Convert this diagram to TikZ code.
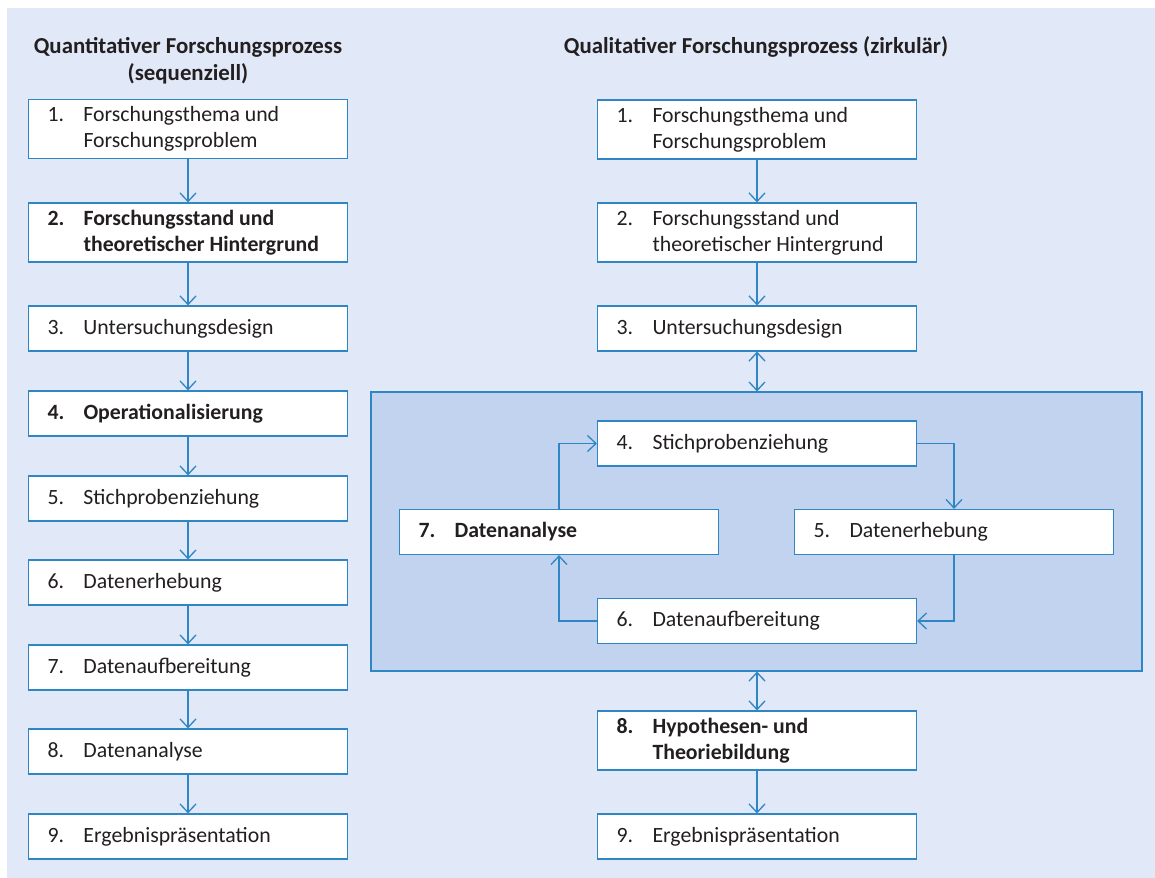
\documentclass[tikz,border=0pt]{standalone}
\usepackage{fontspec}
\setmainfont{Carlito}
\usepackage{tikz}
\usetikzlibrary{arrows.meta}

\definecolor{hinter}{HTML}{E1E8F7}
\definecolor{kreis}{HTML}{C2D3EF}
\definecolor{linie}{HTML}{2F86C4}
\definecolor{schrift}{HTML}{231F20}

\tikzset{
  stufe/.style={draw=linie, line width=0.7pt, fill=white, text=schrift,
    minimum width=6.38cm, text width=5.62cm, inner xsep=0.38cm, inner ysep=0pt,
    align=flush left, font=\fontsize{12.4}{14.8}\selectfont},
  eins/.style={stufe, minimum height=0.9cm},
  zwei/.style={stufe, minimum height=1.18cm},
  pfeil/.style={draw=linie, line width=0.75pt, -{Straight Barb[length=1.7mm,width=3.2mm]}},
  doppel/.style={pfeil, {Straight Barb[length=1.7mm,width=3.2mm]}-{Straight Barb[length=1.7mm,width=3.2mm]}},
  titel/.style={text=schrift, font=\bfseries\fontsize{13}{15.5}\selectfont, align=center}
}
\newcommand{\nr}[1]{\makebox[0.72cm][l]{#1}}

\begin{document}
\begin{tikzpicture}[x=0.02cm, y=-0.02cm]
  \useasboundingbox (0,0) rectangle (1155,878);
  \fill[hinter] (7,8) rectangle (1155,878);
  % quantitativ
  \node[titel] (tl) at (188,61) {Quantitativer Forschungsprozess\\(sequenziell)};
  \node[zwei] (l1) at (188,129) {\nr{1.}Forschungsthema und\\\nr{}Forschungsproblem};
  \node[zwei] (l2) at (188,232.5) {\bfseries\nr{2.}Forschungsstand und\\\nr{}\mbox{theoretischer Hintergrund}};
  \node[eins] (l3) at (188,328.5) {\nr{3.}Untersuchungsdesign};
  \node[eins] (l4) at (188,413.5) {\bfseries\nr{4.}Operationalisierung};
  \node[eins] (l5) at (188,498.5) {\nr{5.}Stichprobenziehung};
  \node[eins] (l6) at (188,582.5) {\nr{6.}Datenerhebung};
  \node[eins] (l7) at (188,667.5) {\nr{7.}Datenaufbereitung};
  \node[eins] (l8) at (188,751.5) {\nr{8.}Datenanalyse};
  \node[eins] (l9) at (188,836.5) {\nr{9.}Ergebnispräsentation};
  \foreach \a/\b in {l1/l2,l2/l3,l3/l4,l4/l5,l5/l6,l6/l7,l7/l8,l8/l9}
    \draw[pfeil] (\a) -- (\b);
  % qualitativ
  \node[titel] (tr) at (756,47) {Qualitativer Forschungsprozess (zirkulär)};
  \node[zwei] (r1) at (757,129.5) {\nr{1.}Forschungsthema und\\\nr{}Forschungsproblem};
  \node[zwei] (r2) at (757,232.5) {\nr{2.}Forschungsstand und\\\nr{}\mbox{theoretischer Hintergrund}};
  \node[eins] (r3) at (757,328.5) {\nr{3.}Untersuchungsdesign};
  \node[draw=linie, line width=0.7pt, fill=kreis, minimum width=15.42cm,
    minimum height=5.58cm, inner sep=0pt] (zk) at (756.5,531.5) {};
  \node[eins] (r4) at (757,443.5) {\nr{4.}Stichprobenziehung};
  \node[eins] (r7) at (559,532) {\bfseries\nr{7.}Datenanalyse};
  \node[eins] (r5) at (954,532) {\nr{5.}Datenerhebung};
  \node[eins] (r6) at (757,621) {\nr{6.}Datenaufbereitung};
  \node[zwei] (r8) at (757,740.5) {\bfseries\nr{8.}Hypothesen- und\\\nr{}Theoriebildung};
  \node[eins] (r9) at (757,836.5) {\nr{9.}Ergebnispräsentation};
  \draw[pfeil] (r1) -- (r2);
  \draw[pfeil] (r2) -- (r3);
  \draw[doppel] (r3) -- (r3 |- zk.north);
  \draw[doppel] (r8 |- zk.south) -- (r8);
  \draw[pfeil] (r8) -- (r9);
  \draw[pfeil] (r4.east) -| (r5.north);
  \draw[pfeil] (r5.south) |- (r6.east);
  \draw[pfeil] (r6.west) -| (r7.south);
  \draw[pfeil] (r7.north) |- (r4.west);
\end{tikzpicture}
\end{document}
